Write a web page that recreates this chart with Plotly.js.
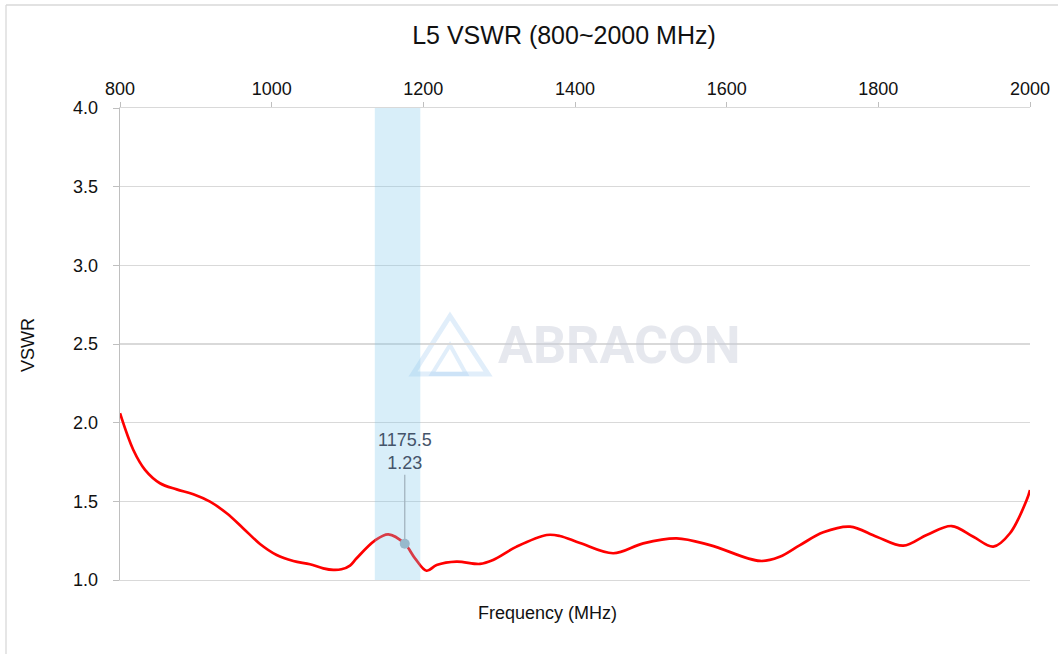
<!DOCTYPE html>
<html><head><meta charset="utf-8">
<script src="https://cdn.plot.ly/plotly-3.0.1.min.js"></script>
<style>html,body{margin:0;padding:0;background:#fff;}#c{width:1058px;height:654px;}</style>
</head><body><div id="c"></div>
<script>
const freq = [800, 817.6, 833, 852.7, 874.7, 896.7, 918.7, 940.7, 962.6, 984.6, 1006.6, 1028.6, 1050.5, 1068, 1081.3, 1092, 1103.3, 1112, 1136, 1153.8, 1175.5, 1189, 1204.3, 1217.5, 1243.8, 1274.7, 1292, 1323, 1362.6, 1380, 1406.6, 1450.5, 1490, 1534, 1578, 1644, 1670, 1696.7, 1727.4, 1762.7, 1797.7, 1833, 1863.7, 1896.7, 1925.3, 1951.6, 1973.6, 1995.6, 2000];
const vswr = [2.06, 1.826, 1.70, 1.615, 1.576, 1.545, 1.498, 1.424, 1.328, 1.229, 1.159, 1.121, 1.10, 1.074, 1.064, 1.068, 1.092, 1.138, 1.25, 1.29, 1.23, 1.138, 1.059, 1.095, 1.117, 1.102, 1.127, 1.212, 1.286, 1.28, 1.235, 1.17, 1.233, 1.265, 1.222, 1.121, 1.148, 1.222, 1.303, 1.339, 1.275, 1.218, 1.286, 1.343, 1.275, 1.212, 1.297, 1.508, 1.572];
const markFreq = [1175.5];
const markVswr = [1.23];
const bandRange = [1136, 1196];
const xTicks = [800, 1000, 1200, 1400, 1600, 1800, 2000];
const yTicks = [1.0, 1.5, 2.0, 2.5, 3.0, 3.5, 4.0];

const W = 1058, H = 654, L = 120, R = 28, T = 108, B = 74;
const pw = W - L - R, ph = H - T - B;
const px = v => (v - L) / pw;
const py = v => (H - B - v) / ph;

const font = 'Liberation Sans, Arial, sans-serif';
const traces = [
  {x: freq, y: vswr, type: 'scatter', mode: 'lines', line: {color: '#ff0000', width: 2.7, shape: 'spline', smoothing: 1}},
  {x: markFreq, y: markVswr, type: 'scatter', mode: 'markers', marker: {color: '#a3b3bf', size: 10}}
];
const logoPath = (pts) => 'M ' + pts.map(p => px(p[0]) + ' ' + py(p[1])).join(' L ') + ' Z';
const layout = {
  width: W, height: H,
  margin: {l: L, r: R, t: T, b: B},
  paper_bgcolor: '#fff', plot_bgcolor: '#fff',
  showlegend: false,
  title: {text: 'L5 VSWR (800~2000 MHz)', font: {family: font, size: 25, color: '#111'}, x: 564 / W, xref: 'container', xanchor: 'center', y: 1 - 35 / H, yref: 'container', yanchor: 'middle'},
  xaxis: {range: [800, 2000], side: 'top', tickvals: xTicks, ticktext: xTicks.map(String), showgrid: false, zeroline: false,
    showline: true, mirror: true, linecolor: '#d9d9d9', linewidth: 1.3, ticks: 'outside', ticklen: 5, tickcolor: '#bfbfbf',
    tickfont: {family: font, size: 18, color: '#111'}, fixedrange: true},
  yaxis: {range: [1, 4], tickvals: yTicks, ticktext: yTicks.map(v => v.toFixed(1)), showgrid: true, gridcolor: '#d9d9d9', gridwidth: 1.3, zeroline: false,
    showline: true, linecolor: '#bfbfbf', linewidth: 1.3, ticks: 'outside', ticklen: 6, tickcolor: '#bfbfbf', ticklabelstandoff: 11,
    tickfont: {family: font, size: 18, color: '#111'}, fixedrange: true},
  shapes: [
    {type: 'rect', xref: 'x', yref: 'y', x0: bandRange[0], x1: bandRange[1], y0: 1, y1: 4, fillcolor: 'rgba(127,198,236,0.3)', line: {width: 0}, layer: 'above'},
    {type: 'path', xref: 'paper', yref: 'paper', path: logoPath([[413,374],[450,316],[488,374]]), line: {color: 'rgba(170,205,240,0.35)', width: 5}, layer: 'below'},
    {type: 'path', xref: 'paper', yref: 'paper', path: logoPath([[432,374],[450,345],[466,374]]), line: {color: 'rgba(170,205,240,0.35)', width: 4}, layer: 'below'},
    {type: 'line', xref: 'paper', yref: 'paper', x0: px(6), x1: px(6), y0: py(5), y1: py(H + 10), line: {color: '#d9d9d9', width: 1.3}},
    {type: 'line', xref: 'paper', yref: 'paper', x0: px(6), x1: px(W + 10), y0: py(5), y1: py(5), line: {color: '#d9d9d9', width: 1.3}}
  ],
  annotations: [
    {x: markFreq[0], y: markVswr[0], xref: 'x', yref: 'y', text: markFreq[0].toFixed(1) + '<br>' + markVswr[0].toFixed(2), showarrow: true, arrowhead: 0, arrowwidth: 1.3, arrowcolor: '#a3b3bf', ax: 0, ay: -92, standoff: 4,
      font: {family: font, size: 18, color: '#44546a'}},
    {xref: 'paper', yref: 'paper', x: px(547), y: py(613), xanchor: 'center', yanchor: 'middle', text: 'Frequency (MHz)', showarrow: false, font: {family: font, size: 18, color: '#111'}},
    {xref: 'paper', yref: 'paper', x: px(28), y: py(345), xanchor: 'center', yanchor: 'middle', text: 'VSWR', textangle: -90, showarrow: false, font: {family: font, size: 18, color: '#111'}},
    {xref: 'paper', yref: 'paper', x: px(619), y: py(345), xanchor: 'center', yanchor: 'middle', text: '<b>ABRACON</b>', showarrow: false, font: {family: 'Roboto, Open Sans, sans-serif', size: 52, color: 'rgba(200,205,218,0.45)'}}
  ]
};
Plotly.newPlot('c', traces, layout, {displayModeBar: false, staticPlot: true});
</script></body></html>
